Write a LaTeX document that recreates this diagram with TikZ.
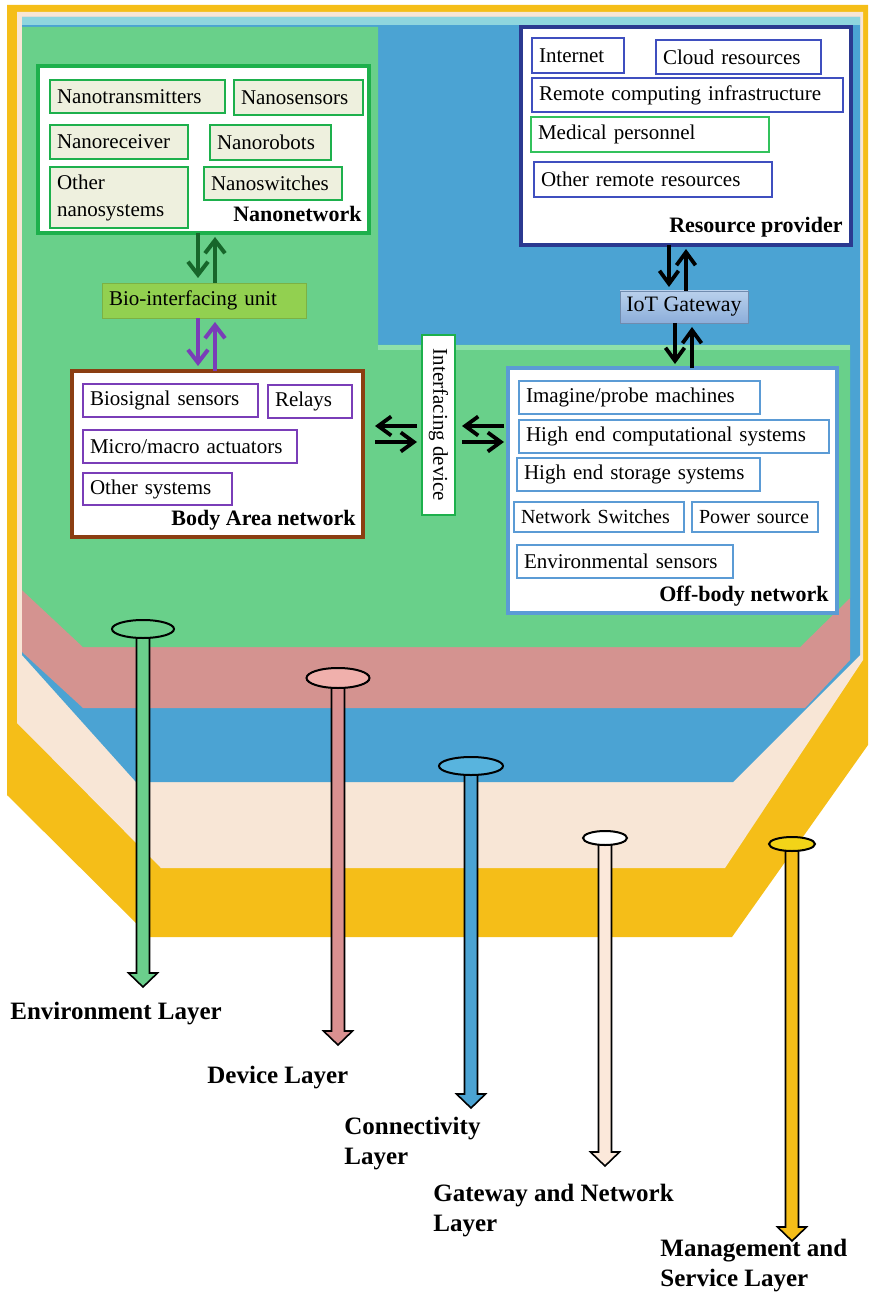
\documentclass[tikz,border=0pt]{standalone}
\usepackage{fontspec}
\setmainfont{Liberation Serif}
\usetikzlibrary{arrows.meta,calc,shapes.geometric}

\definecolor{lyellow}{HTML}{F5BE18}
\definecolor{lbeige}{HTML}{F8E6D6}
\definecolor{lblue}{HTML}{4BA3D3}
\definecolor{lcyan}{HTML}{8FD6DE}
\definecolor{lpink}{HTML}{D49390}
\definecolor{lgreen}{HTML}{69D08A}
\definecolor{lgreenhi}{HTML}{8EE0AA}
\definecolor{nanogreen}{HTML}{1DB04C}
\definecolor{nanofill}{HTML}{EEF0DE}
\definecolor{medgreen}{HTML}{33C25C}
\definecolor{navy}{HTML}{2B3990}
\definecolor{resblue}{HTML}{3F4FBF}
\definecolor{offblue}{HTML}{5B9BD5}
\definecolor{banbrown}{HTML}{8B3E12}
\definecolor{purp}{HTML}{7A3DB8}
\definecolor{biogreen}{HTML}{92D050}
\definecolor{arrgreen}{HTML}{17662A}
\definecolor{iottop}{HTML}{B9D0EC}
\definecolor{iotbot}{HTML}{8CAEDA}
\definecolor{pingreen}{HTML}{6BCF8C}
\definecolor{pinpink}{HTML}{F0B0AC}
\definecolor{stempink}{HTML}{D99090}
\definecolor{pinblue}{HTML}{58B4DE}
\definecolor{pinbeige}{HTML}{FBE8DA}
\definecolor{pinyellow}{HTML}{F2D418}

\newcommand\boxfont{\fontsize{10.5}{13.5}\selectfont}
\newcommand\smallboxfont{\fontsize{10}{12}\selectfont}
\newcommand\lblfont{\fontsize{11}{13}\selectfont\bfseries}
\newcommand\layfont{\fontsize{12.5}{15}\selectfont\bfseries}

% #1 style, #2 name, #3 x1, #4 y1, #5 x2, #6 y2, #7 text  (pixel coordinates)
\newcommand\mkbox[7]{%
  \pgfmathsetmacro\bxw{(#5-#3)*0.5}%
  \pgfmathsetmacro\bxh{(#6-#4)*0.5}%
  \pgfmathsetmacro\bxt{(#5-#3)*0.5-7}%
  \node[#1, anchor=north west, minimum width=\bxw pt, minimum height=\bxh pt, outer sep=0pt,
        text width=\bxt pt, inner xsep=3.5pt, inner ysep=0pt, align=left] (#2) at (#3,#4) {#7};}

% #1 centre coordinate, #2 tip coordinate, #3 fill colour
\newcommand\pinstem[3]{%
  \fill[#3, draw=black, line width=0.8pt] let \p1=(#1), \p2=(#2) in
    (\x1-3.25pt,\y1) -- (\x1-3.25pt,\y2+7pt) -- (\x1-7.25pt,\y2+7pt) -- (\x1,\y2)
    -- (\x1+7.25pt,\y2+7pt) -- (\x1+3.25pt,\y2+7pt) -- (\x1+3.25pt,\y1) -- cycle;}

\begin{document}
\begin{tikzpicture}[x=0.5pt,y=-0.5pt,
  outbox/.style={fill=white, line width=1.7pt},
  nanoin/.style={draw=nanogreen, line width=1.1pt, fill=nanofill, font=\boxfont},
  resin/.style={draw=resblue, line width=1.1pt, fill=white, font=\boxfont},
  medin/.style={draw=medgreen, line width=1.1pt, fill=white, font=\boxfont},
  banin/.style={draw=purp, line width=1.1pt, fill=white, font=\boxfont},
  offin/.style={draw=offblue, line width=1.1pt, fill=white, font=\boxfont},
  lbl/.style={font=\lblfont, inner sep=0pt},
  laylbl/.style={font=\layfont, inner sep=0pt, align=left, anchor=north west},
  garr/.style={draw=arrgreen, line width=2pt, -{Straight Barb[length=6.5pt,width=10pt]}},
  parr/.style={draw=purp, line width=2pt, -{Straight Barb[length=6.5pt,width=10pt]}},
  barr/.style={draw=black, line width=1.9pt, -{Straight Barb[length=6.5pt,width=9.5pt]}},
  pinell/.style={ellipse, draw=black, line width=1pt, inner sep=0pt}
]
\useasboundingbox (0,0) rectangle (871,1294);

% ---------------- layers ----------------
\fill[lyellow] (7,5) -- (868,5) -- (868,745) -- (732,937) -- (150,937) -- (7,795) -- cycle;
\fill[lbeige] (17,12) -- (863,12) -- (863,660) -- (725,868) -- (161,868) -- (17,723) -- cycle;
\fill[lblue] (22,17) -- (860,17) -- (860,655) -- (733,782) -- (136,782) -- (22,655) -- cycle;
\fill[lcyan] (22,17) rectangle (860,25);
\fill[lpink] (22,400) -- (850,400) -- (850,660) -- (805,708) -- (83,708) -- (22,652) -- cycle;
\fill[lgreen] (22,27) -- (378,27) -- (378,345) -- (850,345) -- (850,598) -- (800,647) -- (83,647) -- (22,590) -- cycle;
\fill[lgreenhi] (378,345) rectangle (850,350);

% ---------------- Nanonetwork ----------------
\mkbox{outbox, draw=nanogreen}{nano}{38}{66}{369}{233}{}
\mkbox{nanoin}{ntrans}{50}{80}{225}{113}{Nanotransmitters}
\mkbox{nanoin}{nsens}{234}{80}{363}{115}{Nanosensors}
\mkbox{nanoin}{nrec}{50}{125}{188}{159}{Nanoreceiver}
\mkbox{nanoin}{nrob}{210}{125}{331}{160}{Nanorobots}
\mkbox{nanoin}{nother}{50}{167}{188}{228}{Other\\nanosystems}
\mkbox{nanoin}{nsw}{204}{167}{342}{200}{Nanoswitches}
\node[lbl, anchor=base east] (nanolbl) at ($(nano.south east)+(-7,-11)$) {Nanonetwork};

% ---------------- Bio-interfacing unit ----------------
\mkbox{fill=biogreen, draw=biogreen!85!black, line width=0.4pt, font=\boxfont}{bio}{102}{283}{306}{318}{Bio-interfacing unit}

% ---------------- Body Area network ----------------
\mkbox{outbox, draw=banbrown}{ban}{72}{371}{363}{537}{}
\mkbox{banin}{bsens}{83}{384}{258}{417}{Biosignal sensors}
\mkbox{banin}{brel}{268}{385}{352}{418}{Relays}
\mkbox{banin}{bact}{83}{430}{297}{463}{Micro/macro actuators}
\mkbox{banin}{bother}{83}{473}{232}{505}{Other systems}
\node[lbl, anchor=base east] (banlbl) at ($(ban.south east)+(-7,-12)$) {Body Area network};

% ---------------- Interfacing device ----------------
\node[draw=nanogreen, line width=1.1pt, fill=white, minimum width=16.5pt, minimum height=90pt,
      inner sep=0pt, outer sep=0pt, font=\boxfont] (intf) at (438.5,425) {\rotatebox{-90}{Interfacing device}};

% ---------------- Resource provider ----------------
\mkbox{outbox, draw=navy}{res}{521}{27}{851}{245}{}
\mkbox{resin}{rnet}{532}{38}{624}{73}{Internet}
\mkbox{resin}{rcloud}{656}{40}{821}{74}{Cloud resources}
\mkbox{resin}{rremote}{532}{78}{843}{112}{Remote computing infrastructure}
\mkbox{medin}{rmed}{531}{117}{769}{152}{Medical personnel}
\mkbox{resin}{rother}{534}{162}{772}{197}{Other remote resources}
\node[lbl, anchor=base east] (reslbl) at ($(res.south east)+(-8,-12)$) {Resource provider};

% ---------------- IoT Gateway ----------------
\node[top color=iottop, bottom color=iotbot, draw=iotbot!80!black, line width=0.4pt,
      font=\fontsize{11}{13}\selectfont, minimum width=64pt, minimum height=16pt, inner sep=0pt, outer sep=0pt]
      (iot) at (684,307) {IoT Gateway};

% ---------------- Off-body network ----------------
\mkbox{outbox, draw=offblue}{off}{508}{368}{837}{613}{}
\mkbox{offin}{oimg}{519}{381}{760}{414}{Imagine/probe machines}
\mkbox{offin}{ocomp}{519}{420}{829}{453}{High end computational systems}
\mkbox{offin}{ostor}{517}{458}{760}{491}{High end storage systems}
\mkbox{offin, font=\smallboxfont}{osw}{514}{502}{684}{532}{Network Switches}
\mkbox{offin, font=\smallboxfont}{opow}{692}{502}{818}{532}{Power source}
\mkbox{offin}{oenv}{517}{545}{733}{578}{Environmental sensors}
\node[lbl, anchor=base east] (offlbl) at ($(off.south east)+(-8,-12)$) {Off-body network};

% ---------------- connectors ----------------
\draw[garr] ($(nano.south)+(-5.5,0)$) -- ($(bio.north)+(-6,-5)$);
\draw[garr] ($(bio.north)+(11,0)$) -- ($(nano.south)+(11.5,4)$);
\draw[parr] ($(bio.south)+(-6,0)$) -- ($(ban.north)+(-19.5,-5)$);
\draw[parr] ($(ban.north)+(-2.5,0)$) -- ($(bio.south)+(11,4)$);

\draw[barr] ($(res.south)+(-17,0)$) -- ($(iot.north)+(-15,-4)$);
\draw[barr] ($(iot.north)+(2,0)$) -- ($(res.south)+(0,4)$);
\draw[barr] ($(iot.south)+(-9,0)$) -- ($(off.north)+(2.5,-4)$);
\draw[barr] ($(off.north)+(19.5,0)$) -- ($(iot.south)+(8,4)$);

\coordinate (ya) at (0,426);
\coordinate (yb) at (0,442);
\draw[barr] ($(intf.west |- ya)+(-5,0)$) -- ($(ban.east |- ya)+(12,0)$);
\draw[barr] ($(ban.east |- yb)+(12,0)$) -- ($(intf.west |- yb)+(-5,0)$);
\draw[barr] ($(off.west |- ya)+(-4,0)$) -- ($(intf.east |- ya)+(7,0)$);
\draw[barr] ($(intf.east |- yb)+(7,0)$) -- ($(off.west |- yb)+(-4,0)$);

% ---------------- layer pins ----------------
\coordinate (envc) at (143,629);   \coordinate (envtip) at (143,987);
\coordinate (devc) at (338,678);   \coordinate (devtip) at (338,1045);
\coordinate (conc) at (471,766);   \coordinate (contip) at (471,1108);
\coordinate (gwc) at (605,838);    \coordinate (gwtip) at (605,1166);
\coordinate (mgc) at (792,844);    \coordinate (mgtip) at (792,1241);

\pinstem{envc}{envtip}{pingreen}
\pinstem{devc}{devtip}{stempink}
\pinstem{conc}{contip}{lblue}
\pinstem{gwc}{gwtip}{pinbeige}
\pinstem{mgc}{mgtip}{lyellow}

\node[pinell, fill=pingreen, minimum width=31pt, minimum height=9pt] (envpin) at (envc) {};
\node[pinell, fill=pinpink, minimum width=31.5pt, minimum height=10pt] (devpin) at (devc) {};
\node[pinell, fill=pinblue, minimum width=32pt, minimum height=9pt] (conpin) at (conc) {};
\node[pinell, fill=white, minimum width=22pt, minimum height=7pt] (gwpin) at (gwc) {};
\node[pinell, fill=pinyellow, minimum width=23pt, minimum height=7pt] (mgpin) at (mgc) {};

\node[laylbl] (envlbl) at (10,1002) {Environment Layer};
\node[laylbl] (devlbl) at (207,1066) {Device Layer};
\node[laylbl] (conlbl) at (344,1117) {Connectivity\\Layer};
\node[laylbl] (gwlbl) at (433,1184) {Gateway and Network\\Layer};
\node[laylbl] (mglbl) at (660,1239) {Management and\\Service Layer};
\end{tikzpicture}
\end{document}
